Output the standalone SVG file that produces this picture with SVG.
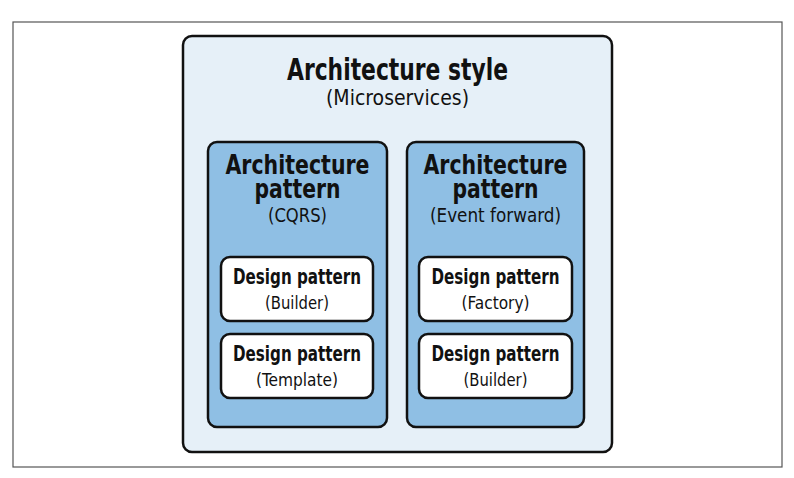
<svg xmlns="http://www.w3.org/2000/svg" width="794" height="478" viewBox="0 0 794 478">
<style>
.frame{fill:#fff;stroke:#555;stroke-width:1.2}
.style{fill:#e6f0f8;stroke:#111;stroke-width:2.5}
.pat{fill:#8fbfe4;stroke:#111;stroke-width:2.5}
.des{fill:#fff;stroke:#111;stroke-width:2.5}
text{font-family:"DejaVu Sans Condensed","Liberation Sans Narrow","Liberation Sans",sans-serif;fill:#111;text-anchor:middle}
.b{font-weight:bold}
</style>
<rect class="frame" x="13" y="22" width="769" height="445"/>
<g id="style">
<rect class="style" x="183" y="36" width="429" height="416" rx="9"/>
<text class="b" x="397.5" y="80" font-size="31" textLength="221" lengthAdjust="spacingAndGlyphs">Architecture style</text>
<text x="397.5" y="105" font-size="21" textLength="143" lengthAdjust="spacingAndGlyphs">(Microservices)</text>
</g>
<g id="pattern-cqrs">
<rect class="pat" x="208" y="142" width="179" height="285" rx="9"/>
<text class="b" x="297.5" y="174" font-size="26" textLength="144" lengthAdjust="spacingAndGlyphs">Architecture</text>
<text class="b" x="297.5" y="198" font-size="26" textLength="86" lengthAdjust="spacingAndGlyphs">pattern</text>
<text x="297.5" y="222" font-size="20" textLength="59" lengthAdjust="spacingAndGlyphs">(CQRS)</text>
</g>
<g id="pattern-event">
<rect class="pat" x="407" y="142" width="177" height="285" rx="9"/>
<text class="b" x="495.5" y="174" font-size="26" textLength="144" lengthAdjust="spacingAndGlyphs">Architecture</text>
<text class="b" x="495.5" y="198" font-size="26" textLength="86" lengthAdjust="spacingAndGlyphs">pattern</text>
<text x="495.5" y="222" font-size="20" textLength="131" lengthAdjust="spacingAndGlyphs">(Event forward)</text>
</g>
<g id="design-builder-1">
<rect class="des" x="221" y="257" width="152" height="64" rx="9"/>
<text class="b" x="297" y="284" font-size="21" textLength="128" lengthAdjust="spacingAndGlyphs">Design pattern</text>
<text x="297" y="309" font-size="18" textLength="64" lengthAdjust="spacingAndGlyphs">(Builder)</text>
</g>
<g id="design-template">
<rect class="des" x="221" y="334" width="152" height="64" rx="9"/>
<text class="b" x="297" y="361" font-size="21" textLength="128" lengthAdjust="spacingAndGlyphs">Design pattern</text>
<text x="297" y="386" font-size="18" textLength="82" lengthAdjust="spacingAndGlyphs">(Template)</text>
</g>
<g id="design-factory">
<rect class="des" x="419" y="257" width="153" height="64" rx="9"/>
<text class="b" x="495.5" y="284" font-size="21" textLength="128" lengthAdjust="spacingAndGlyphs">Design pattern</text>
<text x="495.5" y="309" font-size="18" textLength="68" lengthAdjust="spacingAndGlyphs">(Factory)</text>
</g>
<g id="design-builder-2">
<rect class="des" x="419" y="334" width="153" height="64" rx="9"/>
<text class="b" x="495.5" y="361" font-size="21" textLength="128" lengthAdjust="spacingAndGlyphs">Design pattern</text>
<text x="495.5" y="386" font-size="18" textLength="64" lengthAdjust="spacingAndGlyphs">(Builder)</text>
</g>
<g id="connectors"></g>
</svg>
